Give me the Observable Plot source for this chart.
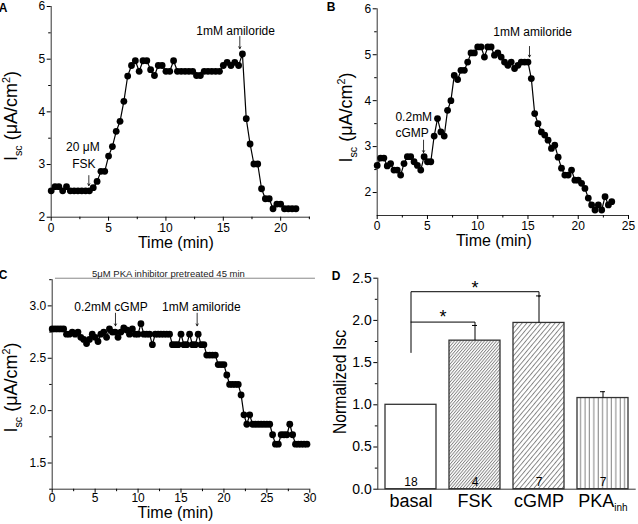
<!DOCTYPE html>
<html>
<head>
<meta charset="utf-8">
<script src="https://cdn.jsdelivr.net/npm/d3@7"></script>
<script src="https://cdn.jsdelivr.net/npm/@observablehq/plot@0.6"></script>
<style>
  html, body { margin: 0; padding: 0; background: #fff; }
  #fig { position: relative; width: 638px; height: 524px; overflow: hidden;
         font-family: "Liberation Sans", Arial, Helvetica, sans-serif; }
  #fig svg.panel { position: absolute; }
</style>
</head>
<body>
<svg width="0" height="0" style="position:absolute">
  <defs>
    <pattern id="hatchFSK" patternUnits="userSpaceOnUse" width="2.3" height="10" patternTransform="rotate(40)">
      <rect width="2.3" height="10" fill="white"/>
      <line x1="0.5" y1="0" x2="0.5" y2="10" stroke="#4a4a4a" stroke-width="0.7"/>
    </pattern>
    <pattern id="hatchCGMP" patternUnits="userSpaceOnUse" width="3.6" height="10" patternTransform="rotate(40)">
      <rect width="3.6" height="10" fill="white"/>
      <line x1="0.5" y1="0" x2="0.5" y2="10" stroke="#666" stroke-width="0.8"/>
    </pattern>
    <pattern id="hatchPKA" patternUnits="userSpaceOnUse" width="4.4" height="10">
      <rect width="4.4" height="10" fill="white"/>
      <line x1="2" y1="0" x2="2" y2="10" stroke="#555" stroke-width="0.8"/>
    </pattern>
  </defs>
</svg>
<div id="fig"></div>
<script>
// ---------------- DATA ----------------
const sampleInterval = 1 / 3; // minutes between recorded points (20 s)

// Panel A: FSK then amiloride (Isc, µA/cm²)
const iscA = [2.50,2.58,2.58,2.50,2.58,2.50,2.50,2.50,2.50,2.50,
              2.50,2.56,2.68,2.87,2.87,3.16,3.34,3.63,3.82,4.20,
              4.68,4.88,4.97,4.77,4.97,4.97,4.80,4.69,4.88,4.88,
              4.77,4.77,4.97,4.77,4.77,4.77,4.77,4.77,4.69,4.69,
              4.77,4.77,4.77,4.77,4.77,4.88,4.94,4.88,4.94,4.88,
              5.10,3.87,3.39,3.01,3.01,2.54,2.35,2.35,2.16,2.25,
              2.25,2.16,2.16,2.16,2.16];

// Panel B: cGMP then amiloride
const iscB = [2.59,2.75,2.75,2.58,2.63,2.49,2.49,2.38,2.63,2.78,
              2.78,2.67,2.59,2.49,2.78,2.67,2.67,3.23,3.61,3.32,
              3.23,3.79,4.00,4.55,4.46,4.66,4.66,4.84,5.04,5.04,
              5.17,5.17,4.95,5.17,5.17,4.99,5.04,4.95,4.84,4.77,
              4.84,4.70,4.77,4.84,4.84,4.84,4.48,3.72,3.50,3.32,
              3.25,3.14,2.96,3.03,2.77,2.53,2.38,2.38,2.49,2.27,
              2.27,2.20,2.09,1.88,1.73,1.62,1.73,1.62,1.91,1.73,
              1.80];

// Panel C: PKA inhibitor pretreated, cGMP then amiloride
const iscC = [2.78,2.78,2.78,2.78,2.78,2.73,2.73,2.75,2.73,2.75,
              2.70,2.68,2.64,2.68,2.73,2.70,2.66,2.73,2.75,2.70,
              2.78,2.75,2.75,2.70,2.75,2.79,2.77,2.73,2.78,2.73,
              2.73,2.83,2.73,2.73,2.73,2.63,2.73,2.73,2.73,2.73,
              2.73,2.73,2.63,2.63,2.63,2.73,2.63,2.63,2.73,2.63,
              2.63,2.73,2.63,2.63,2.53,2.53,2.53,2.53,2.44,2.44,
              2.44,2.34,2.25,2.25,2.25,2.25,2.15,1.96,1.87,1.96,
              1.87,1.87,1.87,1.87,1.87,1.87,1.87,1.77,1.68,1.68,
              1.77,1.77,1.77,1.87,1.77,1.68,1.68,1.68,1.68,1.68];

// Panel D: normalized Isc summary
const categories = ["basal", "FSK", "cGMP", "PKA_inh"];
const normIsc    = [1.00, 1.76, 1.97, 1.08];
const semIsc     = [0.00, 0.18, 0.32, 0.075];
const nCells     = [18, 4, 7, 7];
const sigLong    = [{cat: "basal", y: 1.62}, {cat: "basal", y: 2.34}, {cat: "cGMP", y: 2.34}, {cat: "cGMP", y: 2.28}];
const sigShort   = [{cat: "basal", y: 1.98}, {cat: "FSK", y: 1.98}, {cat: "FSK", y: 1.94}];

// Tick values
const ticksA = {x: [0, 5, 10, 15, 20], xm: [2.5, 7.5, 12.5, 17.5, 22.5], y: [2, 3, 4, 5, 6], ym: [2.5, 3.5, 4.5, 5.5]};
const ticksB = {x: [0, 5, 10, 15, 20, 25], xm: [2.5, 7.5, 12.5, 17.5, 22.5], y: [2, 3, 4, 5, 6], ym: [2.5, 3.5, 4.5, 5.5]};
const ticksC = {x: [0, 5, 10, 15, 20, 25, 30], xm: [2.5, 7.5, 12.5, 17.5, 22.5, 27.5], y: [1.5, 2.0, 2.5, 3.0], ym: [1.25, 1.75, 2.25, 2.75, 3.25]};
const ticksD = {y: [0, 0.5, 1.0, 1.5, 2.0, 2.5], ym: [0.25, 0.75, 1.25, 1.75, 2.25]};

// ---------------- DRAWING ----------------
const FONT = "'Liberation Sans', Arial, Helvetica, sans-serif";
const AXIS = "#333";
const fig = document.getElementById("fig");

function place(svg, left, top) {
  svg.classList.add("panel");
  svg.style.left = left + "px";
  svg.style.top = top + "px";
  fig.appendChild(svg);
  return svg;
}

function panelLetter(svg, letter, x, y) {
  d3.select(svg).append("text").attr("x", x).attr("y", y)
    .attr("font-size", 12).attr("font-weight", "bold").attr("fill", "black").text(letter);
}

function iscLabel(svg, x, y, size) {
  const t = d3.select(svg).append("text")
    .attr("transform", `translate(${x},${y}) rotate(-90)`)
    .attr("text-anchor", "middle").attr("font-size", size).attr("fill", "black");
  t.append("tspan").text("I");
  t.append("tspan").attr("font-size", size * 0.6).attr("dy", size * 0.3).text("sc");
  t.append("tspan").attr("dy", -size * 0.3).text(" (\u03bcA/cm");
  t.append("tspan").attr("font-size", size * 0.6).attr("dy", -size * 0.36).text("2");
  t.append("tspan").attr("dy", size * 0.36).text(")");
}

function note(x, y, s, size = 12) {
  return Plot.text([{x, y, s}], {x: "x", y: "y", text: "s", fontSize: size, fill: "black"});
}
function arrow(x, y1, y2) {
  return Plot.arrow([{x, y1, y2}], {x1: "x", x2: "x", y1: "y1", y2: "y2", headLength: 4, strokeWidth: 0.8, stroke: "black"});
}

function trace(values, cfg) {
  const rows = values.map((v, i) => ({t: i * sampleInterval, v}));
  return Plot.plot({
    width: 319, height: 262,
    marginLeft: cfg.ml, marginRight: cfg.mr, marginTop: cfg.mt, marginBottom: cfg.mb,
    x: {domain: cfg.xDomain},
    y: {domain: cfg.yDomain},
    style: {fontFamily: FONT, background: "transparent", overflow: "visible", color: "black"},
    marks: [
      Plot.ruleY([cfg.yDomain[0]], {stroke: AXIS, strokeWidth: 1}),
      Plot.ruleX([cfg.xDomain[0]], {stroke: AXIS, strokeWidth: 1}),
      Plot.axisX(cfg.ticks.x, {tickSize: 4, tickPadding: cfg.xPad, fontSize: 12, label: null}),
      Plot.axisX(cfg.ticks.xm, {tickSize: 2.5, tickFormat: () => "", label: null}),
      Plot.axisY(cfg.ticks.y, {tickSize: 4, tickPadding: 2, fontSize: 12, label: null, tickFormat: cfg.yFmt}),
      Plot.axisY(cfg.ticks.ym, {tickSize: 2.5, tickFormat: () => "", label: null}),
      Plot.line(rows, {x: "t", y: "v", stroke: "black", strokeWidth: 1.2}),
      Plot.dot(rows, {x: "t", y: "v", r: 3.4, fill: "black", stroke: null}),
      Plot.text(["Time (min)"], {text: d => d, frameAnchor: "bottom", lineAnchor: "middle", dy: cfg.tdy, dx: cfg.tdx, fontSize: 16, fill: "black"}),
      ...cfg.extra
    ]
  });
}

// Panel A
const svgA = place(trace(iscA, {
  ml: 50.7, mr: 9, mt: 6, mb: 45.3, xDomain: [0, 22.6], yDomain: [2, 6],
  ticks: ticksA, xPad: 2, yFmt: d3.format("d"), tdy: 26, tdx: -5,
  extra: [
    note(16.07, 5.54, "1mM amiloride"),
    arrow(16.44, 5.43, 5.2),
    note(2.76, 3.33, "20 \u03bcM"),
    note(2.85, 3.0, "FSK"),
    arrow(3.28, 2.79, 2.6)
  ]
}), 0, 0);
iscLabel(svgA, 16.5, 116, 18);
panelLetter(svgA, "A", 3, 12);

// Panel B
const svgB = place(trace(iscB, {
  ml: 57.7, mr: 10, mt: 8.3, mb: 47, xDomain: [0, 25], yDomain: [1.5, 6],
  ticks: ticksB, xPad: 2, yFmt: d3.format("d"), tdy: 25.5, tdx: -9,
  extra: [
    note(15.46, 5.49, "1mM amiloride"),
    arrow(15.15, 5.18, 4.95),
    note(3.64, 3.65, "0.2mM"),
    note(3.47, 3.30, "cGMP"),
    arrow(4.61, 3.14, 2.87)
  ]
}), 319, 0);
iscLabel(svgB, 32.7, 117.5, 18);
panelLetter(svgB, "B", 12, 11);

// Panel C
const svgC = place(trace(iscC, {
  ml: 51.7, mr: 9.7, mt: 17.2, mb: 35.3, xDomain: [0, 30], yDomain: [1.25, 3.25],
  ticks: ticksC, xPad: 0.5, yFmt: d3.format(".1f"), tdy: 24, tdx: -5.5,
  extra: [
    Plot.ruleY([3.264], {x1: 0.38, x2: 30.66, stroke: "#888", strokeWidth: 1}),
    Plot.text(["5\u03bcM PKA inhibitor pretreated 45 min"], {text: d => d, x: () => 13.54, y: () => 3.264, dy: -4.5, fontSize: 9.5, fill: "#222"}),
    note(6.85, 2.984, "0.2mM cGMP"),
    arrow(7.37, 2.93, 2.81),
    note(17.37, 2.984, "1mM amiloride"),
    arrow(16.88, 2.93, 2.81)
  ]
}), 0, 262);
iscLabel(svgC, 16.5, 125.5, 18);
panelLetter(svgC, "C", 3, 17);

// Panel D
const barRows = categories.map((cat, i) => ({cat, v: normIsc[i], err: semIsc[i], hi: normIsc[i] + semIsc[i], n: nCells[i]}));
const errRows = barRows.filter(d => d.err > 0);
const fills = {basal: "white", FSK: "url(#hatchFSK)", cGMP: "url(#hatchCGMP)", PKA_inh: "url(#hatchPKA)"};
const BAR = "#333";
const svgD = place(Plot.plot({
  width: 319, height: 262,
  marginLeft: 58.3, marginRight: 2.3, marginTop: 15.7, marginBottom: 35.3,
  x: {domain: categories, paddingInner: 0.2, paddingOuter: 0.1},
  y: {domain: [0, 2.5]},
  style: {fontFamily: FONT, background: "transparent", overflow: "visible", color: "black"},
  marks: [
    ...categories.map(c => Plot.barY(barRows.filter(d => d.cat === c), {x: "cat", y: "v", fill: fills[c], stroke: BAR, strokeWidth: 1.3})),
    Plot.ruleX(errRows, {x: "cat", y1: "v", y2: "hi", stroke: "black", strokeWidth: 1}),
    Plot.tickY(errRows, {x: "cat", y: "hi", insetLeft: 23, insetRight: 23, stroke: "black", strokeWidth: 1}),
    Plot.ruleY([0], {stroke: AXIS, strokeWidth: 1}),
    Plot.frame({anchor: "left", stroke: AXIS, strokeWidth: 1}),
    Plot.axisY(ticksD.y, {tickSize: 4, tickPadding: 2, fontSize: 14, label: null, tickFormat: d3.format(".1f")}),
    Plot.axisY(ticksD.ym, {tickSize: 2.5, tickFormat: () => "", label: null}),
    Plot.axisX({tickSize: 0, tickPadding: 5, fontSize: 18, label: null}),
    Plot.text(barRows, {x: "cat", text: d => String(d.n), frameAnchor: "bottom", lineAnchor: "middle", dy: -7, fontSize: 12, fill: "black"}),
    Plot.line(sigLong, {x: "cat", y: "y", stroke: "black", strokeWidth: 1}),
    Plot.line(sigShort, {x: "cat", y: "y", stroke: "black", strokeWidth: 1}),
    Plot.text([{cat: "FSK", y: 2.44}], {x: "cat", y: "y", text: () => "*", fontSize: 18, dy: 4.5, fill: "black"}),
    Plot.text([{cat: "basal", y: 2.085}], {x: "cat", y: "y", text: () => "*", fontSize: 18, dx: 32, dy: 4.5, fill: "black"})
  ]
}), 319, 262);
// subscript for PKA_inh tick label
d3.select(svgD).selectAll("text").filter(function () { return this.textContent === "PKA_inh"; })
  .each(function () {
    const t = d3.select(this);
    t.text(null);
    t.append("tspan").text("PKA");
    t.append("tspan").attr("font-size", 10).attr("dy", 4).text("inh");
  });
d3.select(svgD).append("text")
  .attr("transform", "translate(27.3,120) rotate(-90)")
  .attr("text-anchor", "middle").attr("font-size", 19).attr("fill", "black")
  .attr("textLength", 104).attr("lengthAdjust", "spacingAndGlyphs")
  .text("Normalized Isc");
panelLetter(svgD, "D", 17, 18);
</script>
</body>
</html>
